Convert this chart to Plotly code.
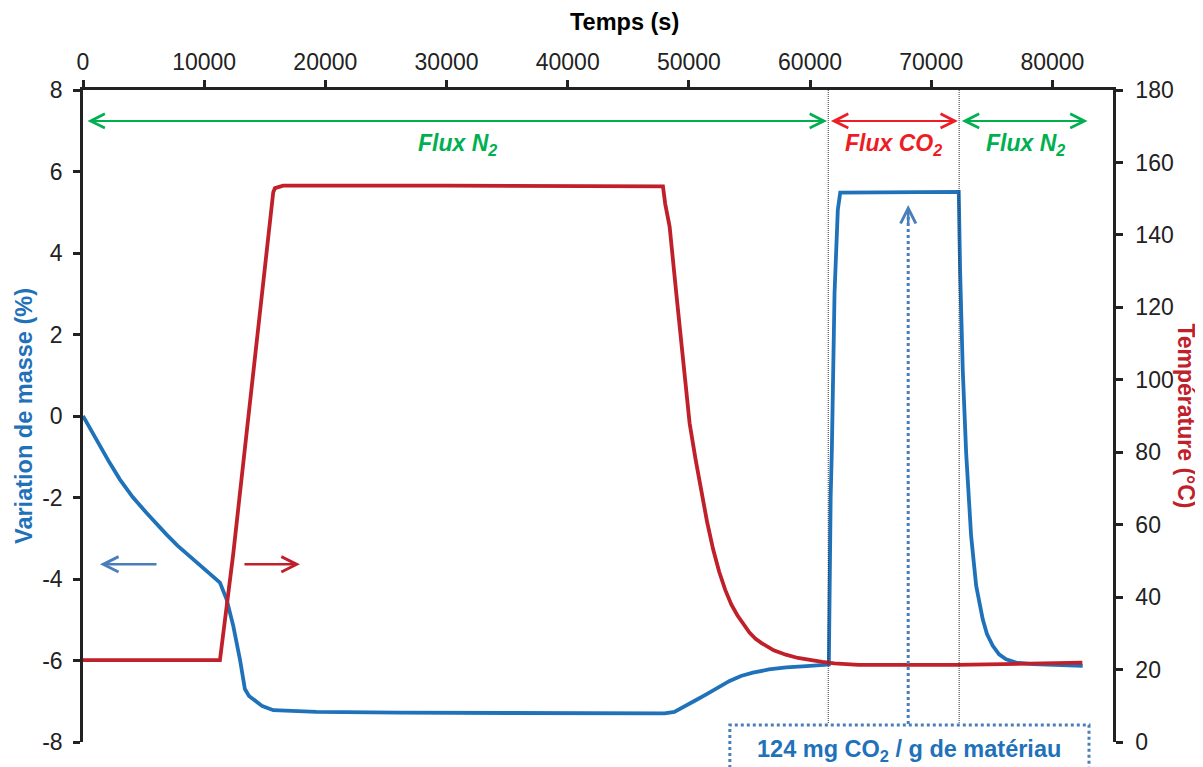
import plotly.graph_objects as go

# ---- data ----
# mass variation (%) vs time (s)
mass_t = [0, 700, 1400, 2200, 3050, 4100, 5250, 6000, 6900, 7800, 8825, 10000, 11300,
          11850, 12400, 12950, 13360, 13700, 14050, 14800, 15700, 19270, 26140, 35000,
          48000, 48800, 49790, 50600, 51440, 52400, 53360, 54300, 55280, 56600, 58040,
          59700, 61330, 61550, 61700, 61800, 62020, 62290, 62490, 72270, 72380, 72600,
          72880, 73290, 73710, 74000, 74250, 74600, 75080, 75600, 76180, 77000, 78380, 82500]
mass_v = [0, -0.38, -0.74, -1.15, -1.56, -1.99, -2.38, -2.63, -2.91, -3.18, -3.44, -3.74, -4.09,
          -4.5, -5.15, -5.97, -6.7, -6.87, -6.95, -7.12, -7.22, -7.26, -7.28, -7.29,
          -7.30, -7.26, -7.11, -6.97, -6.83, -6.66, -6.50, -6.38, -6.30, -6.22, -6.17,
          -6.14, -6.12, -6.10, -2.0, -0.8, 3.02, 5.06, 5.48, 5.50, 3.59, 1.14,
          -0.90, -2.94, -4.17, -4.65, -4.99, -5.35, -5.64, -5.85, -5.97, -6.05, -6.09, -6.13]

# temperature (°C) vs time (s)
temp_t = [0, 11300, 12400, 14600, 15200, 15560, 15700, 15840, 16520, 30000, 47860, 48050,
          48410, 48960, 49510, 50060, 50560, 51000, 51500, 52000, 52500, 53000, 53500,
          54000, 54500, 55000, 55500, 56000, 57000, 58000, 59000, 60000, 61000, 62000,
          64000, 72000, 78000, 82470]
temp_v = [22.6, 22.6, 52, 119, 137, 149.6, 151.8, 152.9, 153.6, 153.6, 153.4, 148.5,
          142.3, 123.9, 105.5, 88.0, 77.9, 69.5, 60.8, 53.2, 47.0, 42.0, 38.0,
          35.0, 32.5, 30.2, 28.5, 27.3, 25.3, 24.1, 23.2, 22.6, 22.1, 21.7,
          21.3, 21.3, 21.6, 21.9]

x_ticks = [0, 10000, 20000, 30000, 40000, 50000, 60000, 70000, 80000]
y_ticks = [-8, -6, -4, -2, 0, 2, 4, 6, 8]
y_tick_labels = ["-8", "-6", "-4", "-2", "0", "2", "4", "6", "8"]

# gas switch times (s)
switch_co2_on = 61500
switch_co2_off = 72300
capacity_t = 68100

BLUE = "#1F72BA"
RED = "#C0202A"
GREEN = "#00B050"
BRIGHT_RED = "#EE1C25"
ARROW_BLUE = "#4A7EBB"
FONT = "Liberation Sans, Arial, sans-serif"

fig = go.Figure()
fig.add_trace(go.Scatter(x=mass_t, y=mass_v, mode="lines",
                         line=dict(color=BLUE, width=3.8), yaxis="y"))
fig.add_trace(go.Scatter(x=temp_t, y=temp_v, mode="lines",
                         line=dict(color=RED, width=3.8), yaxis="y2"))


def double_arrow(t0, t1, color):
    return dict(x=t1, y=7.24, ax=t0, ay=7.24, xref="x", yref="y", axref="x", ayref="y",
                text="", showarrow=True, arrowhead=5, startarrowhead=5, arrowside="end+start",
                arrowsize=1.4, startarrowsize=1.4, arrowwidth=2, arrowcolor=color)


def single_arrow(t_tail, t_head, color):
    return dict(x=t_head, y=-3.64, ax=t_tail, ay=-3.64, xref="x", yref="y", axref="x", ayref="y",
                text="", showarrow=True, arrowhead=5, arrowsize=1.2, arrowwidth=2.5,
                arrowcolor=color)


def flux_label(t, text, color):
    return dict(x=t, y=6.66, xref="x", yref="y", showarrow=False, text=text,
                xanchor="center", yanchor="middle",
                font=dict(size=23, color=color, family=FONT))


annotations = [
    double_arrow(250, switch_co2_on - 100, GREEN),
    double_arrow(switch_co2_on + 100, switch_co2_off - 100, BRIGHT_RED),
    double_arrow(switch_co2_off + 100, 82900, GREEN),
    flux_label(30900, "<b><i>Flux N<sub>2</sub></i></b>", GREEN),
    flux_label((switch_co2_on + switch_co2_off) / 2, "<b><i>Flux CO<sub>2</sub></i></b>", BRIGHT_RED),
    flux_label(77800, "<b><i>Flux N<sub>2</sub></i></b>", GREEN),
    single_arrow(6190, 1400, ARROW_BLUE),
    single_arrow(13200, 17900, RED),
    # arrow head of the dotted capacity arrow
    dict(x=capacity_t, y=5.18, ax=capacity_t, ay=4.7, xref="x", yref="y", axref="x", ayref="y",
         text="", showarrow=True, arrowhead=5, arrowsize=1.2, arrowwidth=2.5, arrowcolor=ARROW_BLUE),
    dict(x=0.802, y=-0.013, xref="paper", yref="paper", showarrow=False,
         xanchor="center", yanchor="middle",
         text="<b>124 mg CO<sub>2</sub> / g de matériau</b>",
         font=dict(size=23.5, color=BLUE, family=FONT)),
    # axis titles
    dict(x=0.526, y=1.104, xref="paper", yref="paper", showarrow=False,
         xanchor="center", yanchor="middle",
         text="<b>Temps (s)</b>", font=dict(size=23.5, color="#000", family=FONT)),
    dict(x=-0.0573, y=0.5, xref="paper", yref="paper", showarrow=False, textangle=-90,
         xanchor="center", yanchor="middle",
         text="<b>Variation de masse (%)</b>", font=dict(size=23.5, color=BLUE, family=FONT)),
    dict(x=1.0705, y=0.5, xref="paper", yref="paper", showarrow=False, textangle=90,
         xanchor="center", yanchor="middle",
         text="<b>Température (°C)</b>", font=dict(size=23, color=RED, family=FONT)),
]

shapes = [
    dict(type="line", xref="x", yref="y", x0=switch_co2_on, x1=switch_co2_on, y0=8, y1=-7.56,
         line=dict(color="#333", width=1, dash="1px,1px")),
    dict(type="line", xref="x", yref="y", x0=switch_co2_off, x1=switch_co2_off, y0=8, y1=-7.56,
         line=dict(color="#333", width=1, dash="1px,1px")),
    dict(type="line", xref="x", yref="y", x0=capacity_t, x1=capacity_t, y0=-7.56, y1=5.0,
         line=dict(color=ARROW_BLUE, width=3, dash="dot")),
    dict(type="rect", xref="paper", yref="paper", x0=0.628, x1=0.9767, y0=-0.09, y1=0.026,
         fillcolor="white", line=dict(color=ARROW_BLUE, width=3, dash="dot")),
]

axis_font = dict(size=23, color="#222", family=FONT)
# the page body adds an 8px offset, so the figure is drawn 8px smaller
fig.update_layout(
    width=1195, height=759,
    margin=dict(l=75, r=90, t=82, b=25),
    plot_bgcolor="white", paper_bgcolor="white",
    showlegend=False,
    font=dict(family=FONT),
    xaxis=dict(side="top", range=[0, 85000], tickvals=x_ticks, tickformat="d",
               showgrid=False, zeroline=False, showline=True, linecolor="#222", linewidth=2.5,
               ticks="outside", ticklen=7, tickwidth=2.5, tickcolor="#222",
               tickfont=axis_font, ticklabelstandoff=1),
    yaxis=dict(range=[-8, 8], tickvals=y_ticks, ticktext=y_tick_labels,
               showgrid=False, zeroline=False, showline=True,
               linecolor="#222", linewidth=2.5, ticks="outside", ticklen=7, tickwidth=2.5,
               tickcolor="#222", tickfont=axis_font, ticklabelstandoff=6),
    yaxis2=dict(range=[0, 180], dtick=20, overlaying="y", side="right", showgrid=False,
                zeroline=False, showline=True, linecolor="#222", linewidth=2.5,
                ticks="outside", ticklen=7, tickwidth=2.5, tickcolor="#222",
                tickfont=axis_font, ticklabelstandoff=8),
    annotations=annotations,
    shapes=shapes,
)

fig.write_html("out.html")
